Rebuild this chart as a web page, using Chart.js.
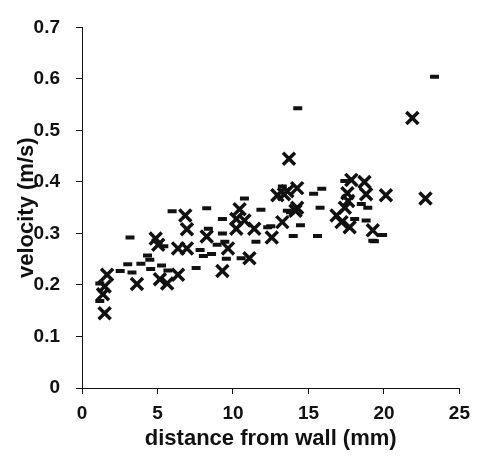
<!DOCTYPE html>
<html>
<head>
<meta charset="utf-8">
<script src="https://cdn.jsdelivr.net/npm/chart.js@4"></script>
<style>
  html, body { margin: 0; padding: 0; background: #fff; }
  #wrap { width: 478px; height: 457px; }
</style>
</head>
<body>
<div id="wrap"><canvas id="c" width="478" height="457"></canvas></div>
<script>
// Series 1: crosses
const crossX = [1.50, 1.39, 1.50, 1.66, 3.64, 4.88, 5.05, 5.16, 5.64, 6.36, 6.36, 6.84, 6.95, 6.95, 8.26, 9.30, 9.67, 10.44, 10.22, 10.76, 10.22, 11.09, 11.41, 12.57, 12.94, 13.27, 13.71, 13.60, 14.25, 14.25, 14.14, 13.38, 17.84, 18.71, 17.58, 18.82, 17.63, 17.41, 16.86, 17.19, 17.73, 19.26, 21.88, 20.13, 22.75];
const crossY = [0.145, 0.182, 0.197, 0.220, 0.202, 0.290, 0.278, 0.211, 0.203, 0.271, 0.220, 0.335, 0.308, 0.271, 0.294, 0.227, 0.271, 0.347, 0.328, 0.325, 0.309, 0.252, 0.309, 0.292, 0.374, 0.322, 0.445, 0.382, 0.388, 0.350, 0.344, 0.376, 0.404, 0.400, 0.378, 0.376, 0.363, 0.350, 0.335, 0.322, 0.312, 0.306, 0.524, 0.374, 0.368];

// Series 2: dashes
const dashX = [1.18, 1.18, 2.53, 3.03, 3.18, 3.31, 3.90, 4.34, 4.49, 4.55, 5.42, 5.27, 5.69, 5.97, 8.26, 9.30, 7.56, 7.82, 8.04, 8.58, 8.95, 8.37, 9.30, 9.46, 9.56, 10.54, 11.52, 11.85, 10.76, 12.50, 13.27, 14.29, 14.47, 15.34, 15.88, 15.77, 13.99, 15.60, 13.81, 17.41, 18.50, 18.93, 18.06, 18.82, 19.26, 23.35, 19.91, 19.37, 12.30, 13.60];
const dashY = [0.203, 0.169, 0.227, 0.240, 0.292, 0.224, 0.241, 0.257, 0.249, 0.231, 0.275, 0.238, 0.228, 0.343, 0.349, 0.328, 0.233, 0.268, 0.256, 0.260, 0.278, 0.309, 0.300, 0.284, 0.251, 0.252, 0.284, 0.346, 0.368, 0.314, 0.391, 0.543, 0.316, 0.377, 0.387, 0.350, 0.295, 0.295, 0.341, 0.402, 0.357, 0.350, 0.328, 0.325, 0.286, 0.604, 0.297, 0.285, 0.312, 0.344];

// Axis settings
const xTitle = 'distance from wall (mm)';
const yTitle = 'velocity (m/s)';
const xMin = 0, xMax = 25, xStep = 5;
const yMin = 0, yMax = 0.7, yStep = 0.1;

const toPts = (xs, ys) => xs.map((x, i) => ({ x: x, y: ys[i] }));
const FONT = '"Liberation Sans", Arial, sans-serif';
const INK = '#111';

new Chart(document.getElementById('c'), {
  type: 'scatter',
  data: {
    datasets: [
      {
        label: 'crosses',
        data: toPts(crossX, crossY),
        pointStyle: 'crossRot',
        pointRadius: 8.5,
        pointBorderWidth: 3.5,
        borderColor: INK,
        backgroundColor: INK
      },
      {
        label: 'dashes',
        data: toPts(dashX, dashY),
        pointStyle: 'line',
        pointRadius: 4.5,
        pointBorderWidth: 4,
        borderColor: INK,
        backgroundColor: INK
      }
    ]
  },
  options: {
    responsive: false,
    animation: false,
    devicePixelRatio: 1,
    layout: { padding: { left: 0, right: 14, top: 21, bottom: 0 } },
    plugins: { legend: { display: false }, tooltip: { enabled: false } },
    scales: {
      x: {
        type: 'linear',
        min: xMin, max: xMax,
        afterFit: s => { s.height = 69; },
        border: { display: true, color: INK, width: 1 },
        grid: { drawOnChartArea: false, drawTicks: true, tickLength: 6, color: INK },
        ticks: { stepSize: xStep, color: INK, padding: 8, font: { family: FONT, size: 19, weight: 'bold' }, maxRotation: 0 },
        title: { display: true, text: xTitle, color: INK, font: { family: FONT, size: 22, weight: 'bold' }, padding: { top: 0, bottom: 5 } }
      },
      y: {
        type: 'linear',
        min: yMin, max: yMax,
        afterFit: s => { s.width = 82; },
        border: { display: true, color: INK, width: 1 },
        grid: { drawOnChartArea: false, drawTicks: true, tickLength: 6, color: INK },
        ticks: { stepSize: yStep, color: INK, padding: 16, font: { family: FONT, size: 19, weight: 'bold' },
                 callback: v => String(+v.toFixed(1)) },
        title: { display: true, text: yTitle, color: INK, font: { family: FONT, size: 22, weight: 'bold' }, padding: { top: 14, bottom: 0 } }
      }
    }
  }
});
</script>
</body>
</html>
